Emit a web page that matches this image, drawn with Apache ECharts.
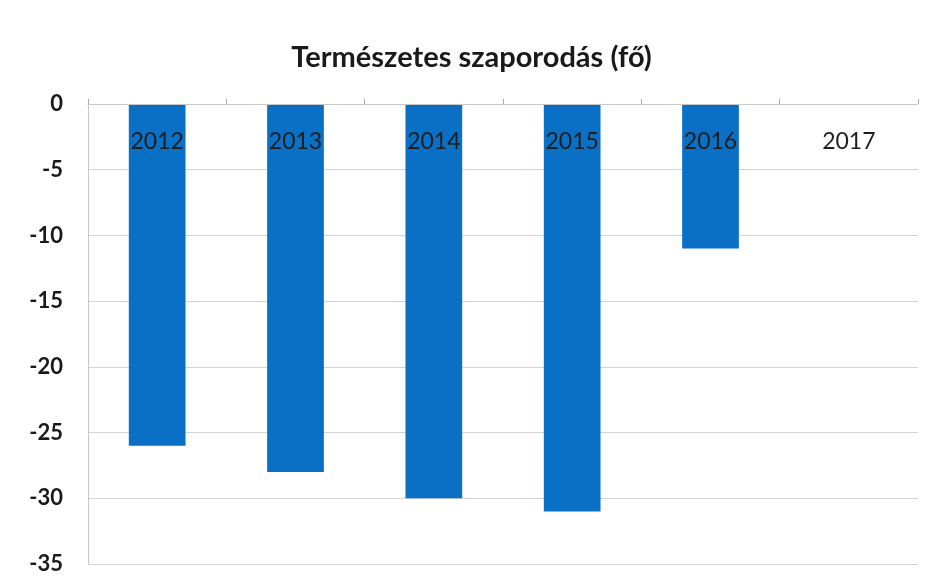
<!DOCTYPE html>
<html>
  <head>
    <meta charset="UTF-8">
    <title>Természetes szaporodás</title>
    <script src="https://cdn.jsdelivr.net/npm/echarts@6/dist/echarts.min.js"></script>
    <style>
      html, body { margin: 0; padding: 0; background: #fff; }
    </style>
  </head>
  <body>
    <div id="myChart" style="width: 943px;height:584px;"></div>
    <script type="text/javascript">
    var years = ['2012', '2013', '2014', '2015', '2016', '2017'];
    var values = [-26, -28, -30, -31, -11, null];
    var yMin = -35, yMax = 0, yStep = 5;

    var myChart = echarts.init(document.getElementById('myChart'));
    var option = {
        title: {
            text: 'Természetes szaporodás (fő)',
            left: 'center',
            top: 38,
            textStyle: { fontFamily: 'Lato', fontSize: 29, fontWeight: 'bold', color: '#1a1a1a' }
        },
        grid: { left: 88, right: 25, top: 104, bottom: 20 },
        xAxis: {
            type: 'category',
            data: years,
            position: 'top',
            z: 10,
            axisLine: { show: true, lineStyle: { color: '#c8c8c8' } },
            axisTick: { show: true, length: 5, lineStyle: { color: '#aaa' } },
            axisLabel: {
                inside: true,
                margin: 26,
                fontFamily: 'Lato',
                fontSize: 23,
                color: '#1e1e1e'
            }
        },
        yAxis: {
            type: 'value',
            min: yMin,
            max: yMax,
            interval: yStep,
            axisLine: { show: true, lineStyle: { color: '#c8c8c8' } },
            axisTick: { show: false },
            splitLine: { lineStyle: { color: '#d4d4d4' } },
            axisLabel: { fontFamily: 'Lato', fontSize: 22, fontWeight: 'bold', color: '#1a1a1a', margin: 25 }
        },
        series: [{
            type: 'bar',
            data: values,
            barWidth: '41%',
            itemStyle: { color: '#0A70C6' }
        }]
    };
    myChart.setOption(option);
    </script>
  </body>
</html>
